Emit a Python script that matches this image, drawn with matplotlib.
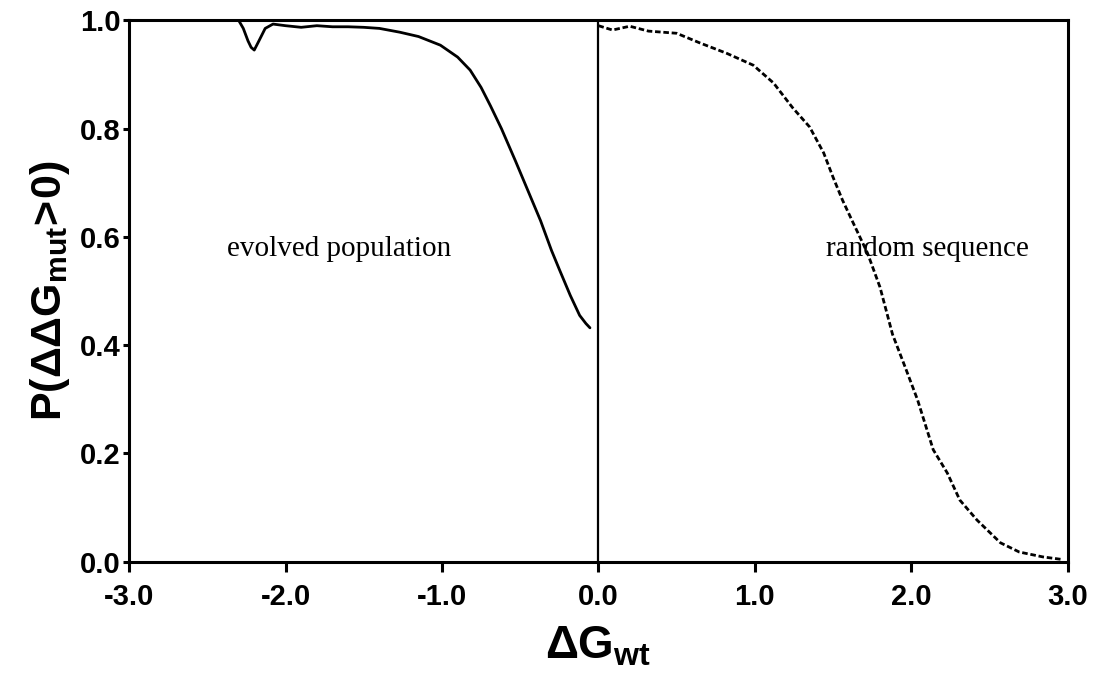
import matplotlib.pyplot as plt
import numpy as np

plt.rcParams['axes.unicode_minus'] = False
plt.rcParams['mathtext.fontset'] = 'custom'
plt.rcParams['mathtext.rm'] = 'Liberation Sans:bold'
plt.rcParams['mathtext.bf'] = 'Liberation Sans:bold'
plt.rcParams['mathtext.it'] = 'Liberation Sans:bold'

# evolved population (solid curve)
evo_x = [-2.30, -2.27, -2.24, -2.22, -2.20, -2.17, -2.13, -2.08, -2.00, -1.90, -1.80, -1.70,
         -1.60, -1.50, -1.40, -1.27, -1.15, -1.01, -0.90, -0.82, -0.75, -0.69, -0.62,
         -0.53, -0.45, -0.37, -0.30, -0.25, -0.18, -0.12, -0.08, -0.054]
evo_y = [1.000, 0.985, 0.962, 0.950, 0.945, 0.962, 0.985, 0.993, 0.990, 0.987, 0.990, 0.988,
         0.988, 0.987, 0.985, 0.978, 0.970, 0.954, 0.932, 0.908, 0.876, 0.842, 0.800,
         0.740, 0.685, 0.630, 0.575, 0.540, 0.492, 0.455, 0.440, 0.432]

# random sequence (dashed curve)
rnd_x = [0.00, 0.09, 0.20, 0.32, 0.50, 0.65, 0.82, 0.99, 1.12, 1.24, 1.35, 1.44,
         1.50, 1.56, 1.62, 1.72, 1.80, 1.88, 1.96, 2.04, 2.14, 2.23, 2.31, 2.42,
         2.57, 2.69, 2.84, 2.97]
rnd_y = [0.990, 0.982, 0.989, 0.980, 0.976, 0.958, 0.939, 0.917, 0.884, 0.839, 0.803, 0.755,
         0.710, 0.668, 0.631, 0.570, 0.507, 0.420, 0.360, 0.299, 0.207, 0.164, 0.114, 0.077,
         0.035, 0.018, 0.009, 0.004]

xticks = [-3.0, -2.0, -1.0, 0.0, 1.0, 2.0, 3.0]
yticks = [0.0, 0.2, 0.4, 0.6, 0.8, 1.0]

fig = plt.figure(figsize=(10.94, 6.76), dpi=100)
ax = fig.add_axes([0.118, 0.169, 0.858, 0.801])

ax.plot(evo_x, evo_y, color='black', lw=2.0, solid_capstyle='round')
ax.plot(rnd_x, rnd_y, color='black', lw=2.0, linestyle=(0, (2.0, 1.0)))
ax.axvline(0.0, color='black', lw=1.6)

ax.set_xlim(-3.0, 3.0)
ax.set_ylim(0.0, 1.0)
ax.set_xticks(xticks)
ax.set_yticks(yticks)
ax.set_xticklabels(['%.1f' % v for v in xticks])
ax.set_yticklabels(['%.1f' % v for v in yticks])

for s in ax.spines.values():
    s.set_linewidth(2.2)
ax.tick_params(axis='x', direction='out', length=7, width=2.2, pad=8)
ax.tick_params(axis='y', direction='out', length=4, width=2.2, pad=2)
for lab in ax.get_xticklabels() + ax.get_yticklabels():
    lab.set_fontfamily('Liberation Sans')
    lab.set_fontweight('bold')
    lab.set_fontsize(21)

ax.set_xlabel(r'$\Delta G_{wt}$', fontsize=33, labelpad=9)
ax.set_ylabel(r'$P(\Delta\Delta G_{mut}\!>\!0)$', fontsize=31, labelpad=6)

ax.text(-1.66, 0.578, 'evolved population', family='Liberation Serif', fontsize=21,
        ha='center', va='center')
ax.text(2.10, 0.578, 'random sequence', family='Liberation Serif', fontsize=21,
        ha='center', va='center')

fig.savefig('out.png', dpi=100)
